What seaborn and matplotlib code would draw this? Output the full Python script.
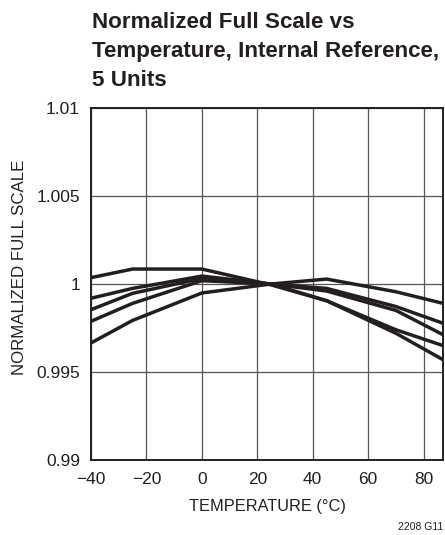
"""
Normalized full scale vs temperature, internal reference, 5 units
"""

import pandas as pd
import matplotlib
matplotlib.use("Agg")
import matplotlib.pyplot as plt
import seaborn as sns

# Temperature points (°C)
temperature = [-40, -25, 0, 25, 45, 70, 87]

# Normalized full scale for the five units
unit_1 = [1.00036, 1.00085, 1.00085, 0.99995, 0.99905, 0.99720, 0.99570]
unit_2 = [0.99919, 0.99975, 1.00045, 1.00000, 0.99905, 0.99740, 0.99650]
unit_3 = [0.99854, 0.99947, 1.00032, 1.00000, 0.99960, 0.99850, 0.99712]
unit_4 = [0.99788, 0.99890, 1.00019, 1.00000, 0.99975, 0.99872, 0.99777]
unit_5 = [0.99665, 0.99793, 0.99949, 1.00000, 1.00028, 0.99956, 0.99890]

x_ticks = [-40, -20, 0, 20, 40, 60, 80]
x_tick_labels = ["\u221240", "\u221220", "0", "20", "40", "60", "80"]
y_ticks = [0.99, 0.995, 1.0, 1.005, 1.01]
y_tick_labels = ["0.99", "0.995", "1", "1.005", "1.01"]

title_lines = ["Normalized Full Scale vs",
               "Temperature, Internal Reference,",
               "5 Units"]

INK = "#231f20"
W, H = 445, 535


def main():
    units = [unit_1, unit_2, unit_3, unit_4, unit_5]
    rows = []
    for i, values in enumerate(units):
        for t, v in zip(temperature, values):
            rows.append({"unit": i, "temp": t, "value": v})
    df = pd.DataFrame(rows)

    sns.set_style("white")
    plt.rcParams["font.family"] = ["Liberation Sans", "DejaVu Sans"]

    fig = plt.figure(figsize=(W / 100, H / 100), dpi=100)
    renderer = fig.canvas.get_renderer()
    ax = fig.add_axes([91 / W, 1 - 460 / H, 352 / W, 352 / H])

    sns.lineplot(data=df, x="temp", y="value", units="unit", estimator=None,
                 color=INK, lw=2.5, ax=ax, legend=False)

    ax.set_xlim(-40, 87)
    ax.set_ylim(0.99, 1.01)
    ax.set_xticks(x_ticks, x_tick_labels)
    ax.set_yticks(y_ticks, y_tick_labels)
    ax.grid(True, color="#555555", lw=0.9)
    ax.tick_params(axis="x", length=0, pad=9, labelsize=12.5, colors=INK)
    ax.tick_params(axis="y", length=0, pad=8, labelsize=12.5, colors=INK)
    for s in ax.spines.values():
        s.set_color(INK)
        s.set_linewidth(1.4)

    ax.set_xlabel("TEMPERATURE (°C)", fontsize=11.8, color=INK, labelpad=8)
    ax.set_ylabel("NORMALIZED FULL SCALE", fontsize=12.2, color=INK)
    ax.yaxis.set_label_coords(-0.182, 0.548)

    # title: three lines, sized so the widest one spans the reference width
    baselines = [28, 57, 86]
    texts = [fig.text(92 / W, 1 - b / H, line, fontsize=14, fontweight="bold",
                      color=INK, ha="left", va="baseline")
             for line, b in zip(title_lines, baselines)]
    widest = max(t.get_window_extent(renderer).width for t in texts)
    size = 14 * 349 / widest
    for t in texts:
        t.set_fontsize(size)

    fig.text(443 / W, 1 - 527 / H, "2208 G11", fontsize=7.5, color=INK,
             ha="right", va="center")

    fig.savefig("out.png", dpi=100)


if __name__ == "__main__":
    main()
